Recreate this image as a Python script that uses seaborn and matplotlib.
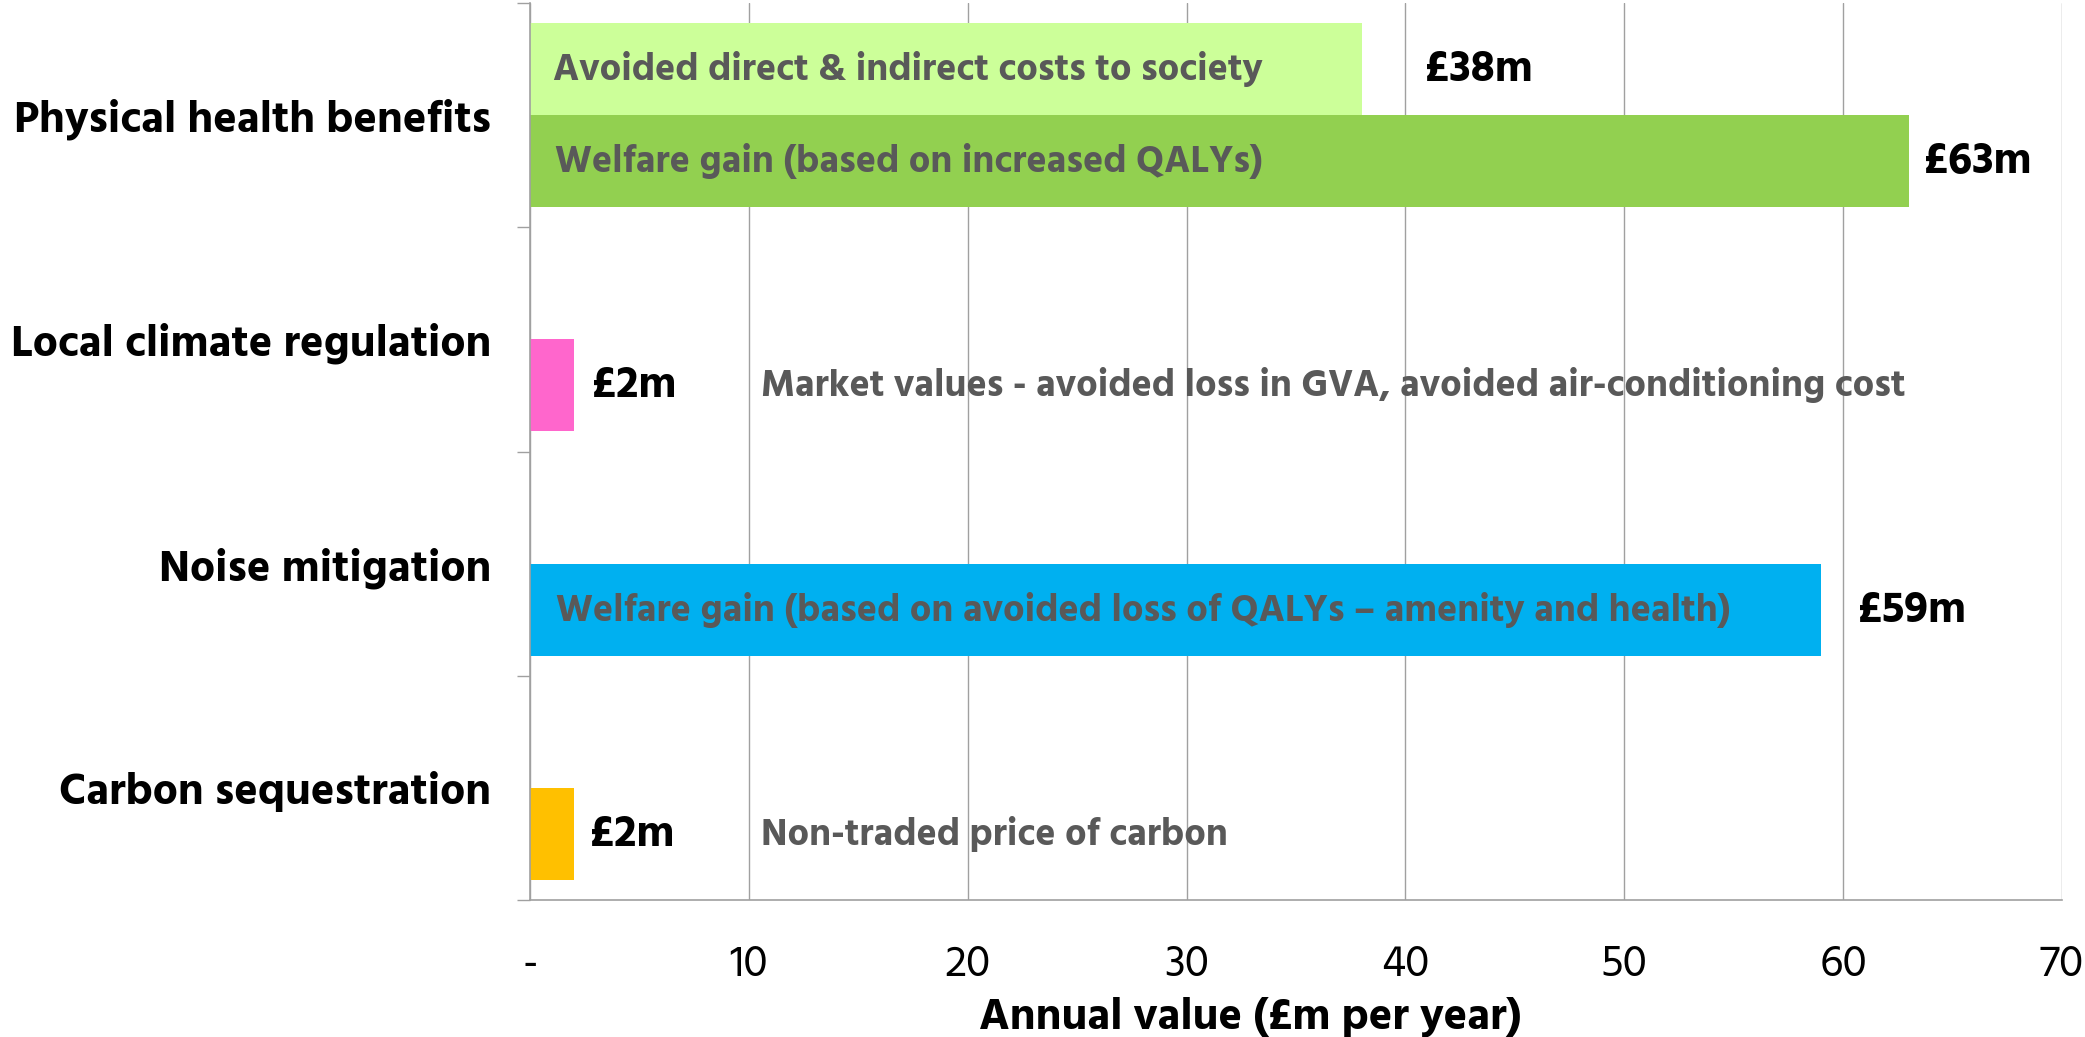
import matplotlib
matplotlib.use("Agg")
import matplotlib.pyplot as plt
import pandas as pd
import seaborn as sns

# ---------------- data ----------------
categories = ["Physical health benefits", "Local climate regulation",
              "Noise mitigation", "Carbon sequestration"]
slots = ["upper", "lower"]

bar_category = ["Physical health benefits", "Physical health benefits",
                "Local climate regulation", "Noise mitigation", "Carbon sequestration"]
bar_slot = ["upper", "lower", "lower", "lower", "lower"]
bar_value = [38, 63, 2, 59, 2]
bar_description = [
    "Avoided direct & indirect costs to society",
    "Welfare gain (based on increased QALYs)",
    "Market values - avoided loss in GVA, avoided air-conditioning cost",
    "Welfare gain (based on avoided loss of QALYs \u2013 amenity and health)",
    "Non-traded price of carbon",
]
x_ticks = [0, 10, 20, 30, 40, 50, 60, 70]
x_tick_labels = ["-", "10", "20", "30", "40", "50", "60", "70"]
x_label = "Annual value (\u00a3m per year)"

# ---------------- style ----------------
bar_colors = ["#CCFF99", "#92D050", "#FF66CC", "#00B0F0", "#FFC000"]
desc_x = [1.05, 1.15, 10.55, 1.2, 10.55]          # where each description starts (data units)
value_label_gap = [2.9, 0.7, 0.85, 1.7, 0.75]     # gap between bar end and value label
FONT = ["Hind", "DejaVu Sans"]
GRID = "#A0A0A0"
DESC_COLOR = "#595959"

sns.set_theme(style="white")
plt.rcParams["font.family"] = FONT

df = pd.DataFrame({"category": bar_category, "slot": bar_slot, "value": bar_value})

W, H = 2085, 1037
fig = plt.figure(figsize=(W / 100, H / 100), dpi=100)
ax = fig.add_axes([530 / W, 1 - 900 / H, (2062 - 530) / W, (900 - 3) / H])

sns.barplot(data=df, y="category", x="value", hue="slot", order=categories,
            hue_order=slots, orient="h", width=0.82, dodge=True, legend=False,
            saturation=1, ax=ax, zorder=2)

ax.set_xlim(0, 70)
ax.set_ylim(3.5, -0.5)

# colour bars & add labels
for p in ax.patches:
    yc = p.get_y() + p.get_height() / 2
    cat_idx = int(round(yc))
    slot = "upper" if yc < cat_idx else "lower"
    val = p.get_width()
    for i in range(len(bar_value)):
        if (bar_category[i] == categories[cat_idx] and bar_slot[i] == slot
                and abs(bar_value[i] - val) < 1e-9):
            p.set_facecolor(bar_colors[i])
            p.set_edgecolor("none")
            ax.text(val + value_label_gap[i], yc, f"\u00a3{bar_value[i]}m",
                    ha="left", va="center", fontsize=32, fontweight="bold",
                    color="black", zorder=5)
            ax.text(desc_x[i], yc, bar_description[i], ha="left", va="center",
                    fontsize=27.4, fontweight="bold", color=DESC_COLOR, zorder=5)
            break

# axes styling
for s in ["top", "right"]:
    ax.spines[s].set_visible(False)
for s in ["left", "bottom"]:
    ax.spines[s].set_color(GRID)
    ax.spines[s].set_linewidth(1.2)

ax.set_xticks(x_ticks)
ax.set_xticklabels(x_tick_labels, fontsize=32, color="black")
ax.tick_params(axis="x", length=9.4, width=1.0, color=GRID, pad=22)
ax.xaxis.grid(True, color=GRID, linewidth=1.0, zorder=0)
ax.set_axisbelow(True)

ax.set_yticks(range(len(categories)))
ax.set_yticklabels(categories, fontsize=32, fontweight="bold", color="black")
ax.tick_params(axis="y", which="major", length=0, pad=28)
ax.set_yticks([i - 0.5 for i in range(len(categories) + 1)], minor=True)
ax.tick_params(axis="y", which="minor", length=9.4, width=1.0, color=GRID, left=True)

ax.set_ylabel("")
ax.set_xlabel(x_label, fontsize=32, fontweight="bold", color="black", va="center")
ax.xaxis.set_label_coords((1250 - 530) / (2062 - 530), (900 - 1017) / (900 - 3))

fig.savefig("out.png", dpi=100)
